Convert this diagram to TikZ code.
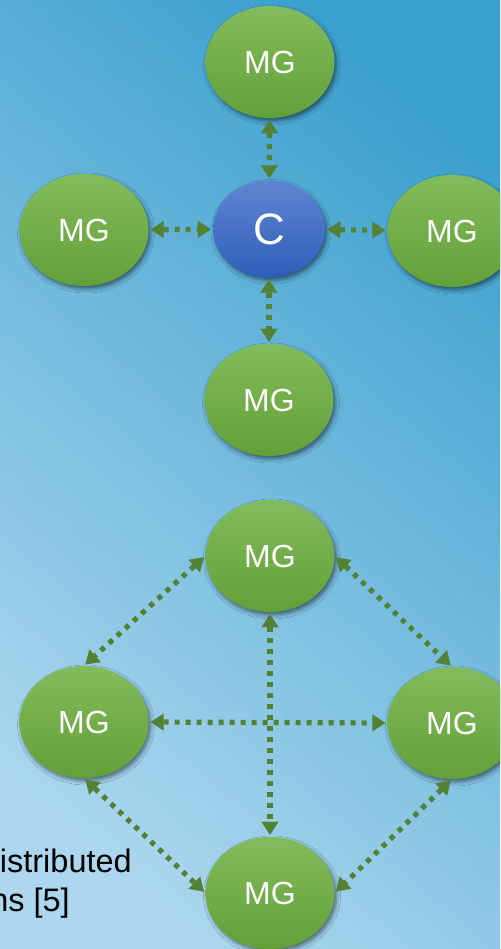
\documentclass[tikz,border=0pt]{standalone}
\usepackage{fontspec}
\setmainfont{Liberation Sans}
\usetikzlibrary{shapes.geometric,arrows.meta,shadows.blur}

\definecolor{mgtop}{RGB}{131,188,92}
\definecolor{mgbot}{RGB}{98,160,56}
\definecolor{ctop}{RGB}{96,134,210}
\definecolor{cbot}{RGB}{46,94,184}
\definecolor{linkgreen}{RGB}{84,130,53}
\definecolor{bgdark}{RGB}{60,160,206}
\definecolor{bgmid}{RGB}{112,184,220}
\definecolor{bglight}{RGB}{172,215,238}

\begin{document}
\begin{tikzpicture}[x=1pt,y=1pt,
  softshadow/.style={blur shadow={shadow xshift=2pt, shadow yshift=-3pt,
      shadow blur radius=4pt, shadow opacity=50}},
  mg/.style={ellipse, inner sep=0pt, minimum width=129pt, minimum height=112pt,
      top color=mgtop, bottom color=mgbot, text=white,
      font=\fontsize{32}{38}\selectfont, softshadow},
  ctrl/.style={ellipse, inner sep=0pt, minimum width=112pt, minimum height=97pt,
      top color=ctop, bottom color=cbot, text=white,
      font=\fontsize{44}{50}\selectfont, softshadow},
  link/.style={draw=linkgreen, line width=5.2pt, dash pattern=on 5pt off 6pt,
      {Triangle[length=13pt,width=17pt,line width=0.1pt]}-{Triangle[length=13pt,width=17pt,line width=0.1pt]},
      shorten >=2pt, shorten <=2pt},
  caption/.style={anchor=base east, inner sep=0pt, text=black,
      font=\fontsize{32.5}{39}\selectfont}
]
\useasboundingbox (0,0) rectangle (500,949);
\clip (0,0) rectangle (500,949);

% background
\shade[top color=bgdark, middle color=bgmid, bottom color=bglight, shading angle=-40]
  (-20,-20) rectangle (520,969);

% centralised arrangement
\node[mg]   (t1) at (270,887) {MG};
\node[ctrl] (c)  at (269,720) {C};
\node[mg]   (l1) at (84,719)  {MG};
\node[mg]   (r1) at (452,718) {MG};
\node[mg]   (b1) at (269,549) {MG};

\draw[link] (t1) -- (c);
\draw[link] (l1) -- (c);
\draw[link] (c) -- (r1);
\draw[link] (c) -- (b1);

% distributed arrangement
\node[mg] (t2) at (270,393) {MG};
\node[mg] (l2) at (84,227)  {MG};
\node[mg] (r2) at (452,226) {MG};
\node[mg] (b2) at (270,56)  {MG};

\draw[link] (t2.west)  -- (l2.north);
\draw[link] (t2.east)  -- (r2.north);
\draw[link] (l2.south) -- (b2.west);
\draw[link] (r2.south) -- (b2.east);
\draw[link] (t2.south) -- (b2.north);
\draw[link] (l2.east)  -- (r2.west);

% caption
\node[caption] (cap1) at (132,76) {Distributed};
\node[caption] (cap2) at (70,37)  {ns [5]};
\end{tikzpicture}
\end{document}
